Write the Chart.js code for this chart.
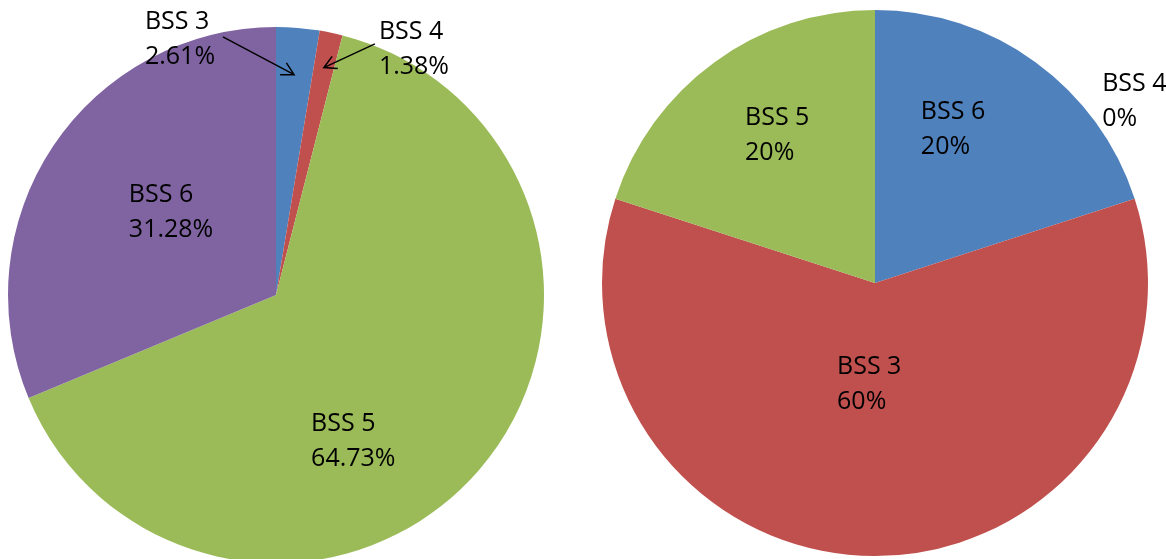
<!DOCTYPE html>
<html>
<head>
<meta charset="utf-8">
<script src="https://cdn.jsdelivr.net/npm/chart.js@4/dist/chart.umd.min.js"></script>
<style>
  html, body { margin: 0; padding: 0; background: #fff; width: 1166px; height: 559px; overflow: hidden; }
  .box { position: absolute; }
  #leftBox  { left: 0;     top: 0; width: 560px; height: 600px; }
  #rightBox { left: 580px; top: 0; width: 586px; height: 600px; }
</style>
</head>
<body>
<div class="box" id="leftBox"><canvas id="leftPie"></canvas></div>
<div class="box" id="rightBox"><canvas id="rightPie"></canvas></div>
<script>
// ── Data ───────────────────────────────────────────────────────────────────────
const leftLabels  = ["BSS 3", "BSS 4", "BSS 5", "BSS 6"];
const leftValues  = [2.61, 1.38, 64.73, 31.28];
const leftColors  = ["#4F81BD", "#C0504D", "#9BBB59", "#8064A2"];

const rightLabels = ["BSS 6", "BSS 4", "BSS 3", "BSS 5"];
const rightValues = [20, 0, 60, 20];
const rightColors = ["#4F81BD", "#8064A2", "#C0504D", "#9BBB59"];

// label placement, in units of the pie radius from its centre (left edge, first line)
const leftLabelPos  = [[-0.489, -1.019], [0.384, -0.981], [0.131, 0.481], [-0.549, -0.373]];
const rightLabelPos = [[0.168, -0.626], [0.832, -0.729], [-0.139, 0.308], [-0.476, -0.604]];
// leader arrows: [slice index, start x, start y (radius units), tip as fraction of radius]
const leftArrows  = [[0, -0.198, -0.963, 0.825], [1, 0.369, -0.937, 0.867]];

const FONT = '25px "Open Sans", "Noto Sans", sans-serif';
const LINE = 35;

// ── Label plugin ───────────────────────────────────────────────────────────────
const pieLabels = {
  id: "pieLabels",
  afterDatasetsDraw(chart, args, opts) {
    const ctx = chart.ctx;
    const meta = chart.getDatasetMeta(0);
    const values = chart.data.datasets[0].data;
    const total = values.reduce((a, b) => a + b, 0);
    ctx.save();
    ctx.font = FONT;
    ctx.fillStyle = "#000";
    ctx.textAlign = "left";
    ctx.textBaseline = "middle";
    meta.data.forEach((arc, i) => {
      const { x, y, outerRadius: r } = arc.getProps(["x", "y", "outerRadius"], true);
      const p = opts.pos[i];
      const lx = x + p[0] * r, ly = y + p[1] * r;
      const pct = (values[i] / total * 100).toFixed(opts.decimals) + "%";
      ctx.fillText(chart.data.labels[i], lx, ly);
      ctx.fillText(pct, lx, ly + LINE);
    });
    // arrows
    ctx.strokeStyle = "#000";
    ctx.lineWidth = 1.5;
    (opts.arrows || []).forEach(([i, sx, sy, frac]) => {
      const arc = meta.data[i];
      const { x, y, outerRadius: r, startAngle, endAngle } =
        arc.getProps(["x", "y", "outerRadius", "startAngle", "endAngle"], true);
      const mid = (startAngle + endAngle) / 2;
      const tx = x + Math.cos(mid) * r * frac, ty = y + Math.sin(mid) * r * frac;
      const fx = x + sx * r, fy = y + sy * r;
      const ang = Math.atan2(ty - fy, tx - fx);
      const h = 14;
      ctx.beginPath();
      ctx.moveTo(fx, fy);
      ctx.lineTo(tx, ty);
      ctx.moveTo(tx - h * Math.cos(ang - 0.5), ty - h * Math.sin(ang - 0.5));
      ctx.lineTo(tx, ty);
      ctx.lineTo(tx - h * Math.cos(ang + 0.5), ty - h * Math.sin(ang + 0.5));
      ctx.stroke();
    });
    ctx.restore();
  }
};

function makePie(id, labels, values, colors, padding, labelOpts) {
  return new Chart(document.getElementById(id), {
    type: "pie",
    data: {
      labels: labels,
      datasets: [{
        data: values,
        backgroundColor: colors,
        borderWidth: 0,
      }],
    },
    options: {
      responsive: true,
      maintainAspectRatio: false,
      animation: false,
      layout: { padding: padding },
      plugins: {
        legend: { display: false },
        tooltip: { enabled: false },
        pieLabels: labelOpts,
      },
    },
    plugins: [pieLabels],
  });
}

makePie("leftPie", leftLabels, leftValues, leftColors,
  { left: 8, top: 27, right: 16, bottom: 37 },
  { pos: leftLabelPos, decimals: 2, arrows: leftArrows });

makePie("rightPie", rightLabels, rightValues, rightColors,
  { left: 22, top: 10, right: 18, bottom: 44 },
  { pos: rightLabelPos, decimals: 0 });
</script>
</body>
</html>
